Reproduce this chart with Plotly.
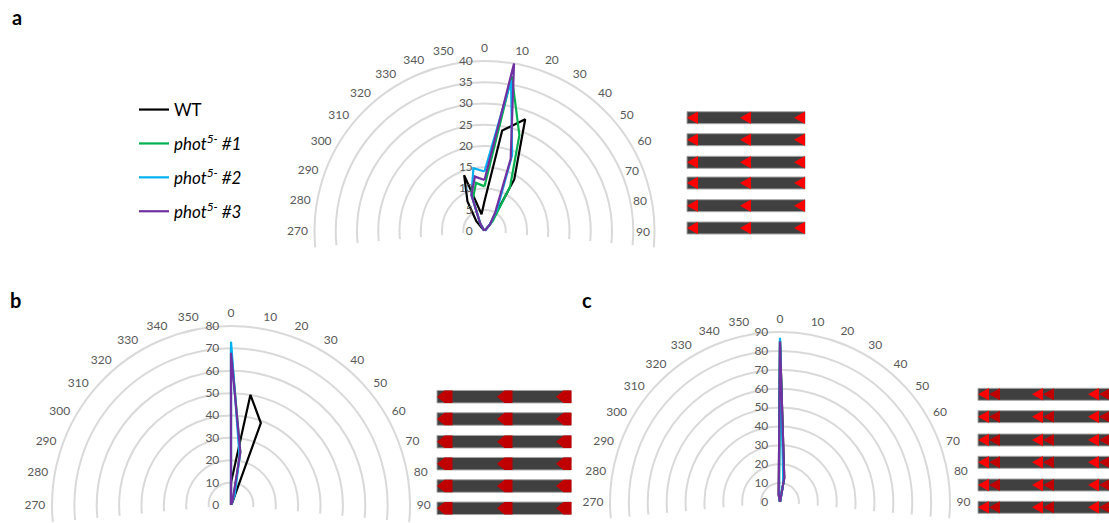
import math
import plotly.graph_objects as go

# ---------------- data ----------------
ANGLES = [0, 10, 20, 30, 40, 50, 60, 70, 80, 90, 100, 110,
          120, 130, 140, 150, 160, 170, 180, 190, 200, 210, 220, 230,
          240, 250, 260, 270, 280, 290, 300, 310, 320, 330, 340, 350]
ANGLE_LABELS = ["0", "10", "20", "30", "40", "50", "60", "70", "80", "90", "100", "110",
                "120", "130", "140", "150", "160", "170", "180", "190", "200", "210", "220", "230",
                "240", "250", "260", "270", "280", "290", "300", "310", "320", "330", "340", "350"]

SERIES_NAMES = ["WT", "<i>phot<sup>5-</sup> #1</i>", "<i>phot<sup>5-</sup> #2</i>", "<i>phot<sup>5-</sup> #3</i>"]
COLORS = ["#000000", "#00B050", "#00B0F0", "#7030A0"]

# panel a (0-40 scale)
A_WT = [7, 24, 28, 14, 2, 0,  0, 0, 0, 0, 0, 0,  0, 0, 0, 0, 0, 0,
        0, 0, 0, 0, 0, 0,  0, 0, 0, 0, 0, 0,  0, 0, 3, 8, 14, 4]
A_P1 = [10.5, 37, 24, 12, 3, 0,  0, 0, 0, 0, 0, 0,  0, 0, 0, 0, 0, 0,
        0, 0, 0, 0, 0, 0,  0, 0, 0, 0, 0, 0,  0, 0, 0, 2, 8, 11.5]
A_P2 = [14, 36, 19, 6, 2, 0,  0, 0, 0, 0, 0, 0,  0, 0, 0, 0, 0, 0,
        0, 0, 0, 0, 0, 0,  0, 0, 0, 0, 0, 0,  0, 0, 0, 2, 9, 15]
A_P3 = [12, 40, 18, 5, 2, 0,  0, 0, 0, 0, 0, 0,  0, 0, 0, 0, 0, 0,
        0, 0, 0, 0, 0, 0,  0, 0, 0, 0, 0, 0,  0, 0, 0, 2, 9, 13]

# panel b (0-80 scale)
B_WT = [10, 50, 39, 1, 0, 0,  0, 0, 0, 0, 0, 0,  0, 0, 0, 0, 0, 0,
        0, 0, 0, 0, 0, 0,  0, 0, 0, 0, 0, 0,  0, 0, 0, 0, 0, 0]
B_P1 = [70, 24, 3, 0, 0, 0,  0, 0, 0, 0, 0, 0,  0, 0, 0, 0, 0, 0,
        0, 0, 0, 0, 0, 0,  0, 0, 0, 0, 0, 0,  0, 0, 0, 0, 0, 0]
B_P2 = [73, 22, 5, 0, 0, 0,  0, 0, 0, 0, 0, 0,  0, 0, 0, 0, 0, 0,
        0, 0, 0, 0, 0, 0,  0, 0, 0, 0, 0, 0,  0, 0, 0, 0, 0, 0]
B_P3 = [68, 24, 2, 0, 0, 0,  0, 0, 0, 0, 0, 0,  0, 0, 0, 0, 0, 0,
        0, 0, 0, 0, 0, 0,  0, 0, 0, 0, 0, 0,  0, 0, 0, 0, 0, 0]

# panel c (0-90 scale)
C_WT = [85, 13, 0, 0, 0, 0,  0, 0, 0, 0, 0, 0,  0, 0, 0, 0, 0, 0,
        0, 0, 0, 0, 0, 0,  0, 0, 0, 0, 0, 0,  0, 0, 0, 0, 0, 4]
C_P1 = [86, 12, 0, 0, 0, 0,  0, 0, 0, 0, 0, 0,  0, 0, 0, 0, 0, 0,
        0, 0, 0, 0, 0, 0,  0, 0, 0, 0, 0, 0,  0, 0, 0, 0, 0, 3]
C_P2 = [87, 10, 0, 0, 0, 0,  0, 0, 0, 0, 0, 0,  0, 0, 0, 0, 0, 0,
        0, 0, 0, 0, 0, 0,  0, 0, 0, 0, 0, 0,  0, 0, 0, 0, 0, 3]
C_P3 = [85, 13, 0, 0, 0, 0,  0, 0, 0, 0, 0, 0,  0, 0, 0, 0, 0, 0,
        0, 0, 0, 0, 0, 0,  0, 0, 0, 0, 0, 0,  0, 0, 0, 0, 0, 4]

PANELS = [
    ("polar", [A_WT, A_P1, A_P2, A_P3], 40, 5),
    ("polar2", [B_WT, B_P1, B_P2, B_P3], 80, 10),
    ("polar3", [C_WT, C_P1, C_P2, C_P3], 90, 10),
]

# ---------------- figure ----------------
W, H = 1109, 523
FONT = "Lato, 'Open Sans', Arial, sans-serif"
SECTOR = [-5.5, 185.5]
GRID = "#D9D9D9"
LABEL_COLOR = "#595959"
HEADROOM = 1.01  # outer ring sits just inside the range so it is drawn as a grid circle

fig = go.Figure()

for pi, (pid, series, rmax, dtick) in enumerate(PANELS):
    for si, vals in enumerate(series):
        fig.add_trace(go.Scatterpolar(
            r=vals + [vals[0]],
            theta=ANGLES + [ANGLES[0]],
            mode="lines",
            line=dict(color=COLORS[si], width=2.2),
            name=SERIES_NAMES[si],
            legendgroup="g%d" % si,
            showlegend=(pi == 0),
            subplot=pid,
            hoverinfo="skip",
        ))

# visible upper half: express left-hand angles as negative so they fall in the sector
TICK_VALS = [a if a <= 180 else a - 360 for a in ANGLES]


def polar_cfg(cx, cy, R, rmax, dtick, hide_labels=()):
    Rt = R * HEADROOM
    s = math.sin(math.radians(-SECTOR[0]))
    x0, x1 = (cx - Rt) / W, (cx + Rt) / W
    ytop, ybot = cy - Rt, cy + Rt * s
    ticktext = ["" if t in hide_labels else t for t in ANGLE_LABELS]
    return dict(
        domain=dict(x=[x0, x1], y=[1 - ybot / H, 1 - ytop / H]),
        sector=SECTOR,
        bgcolor="rgba(0,0,0,0)",
        angularaxis=dict(
            rotation=90, direction="clockwise",
            tickmode="array", tickvals=TICK_VALS, ticktext=ticktext,
            showgrid=False, showline=False,
            ticks="outside", ticklen=2, tickcolor="rgba(0,0,0,0)",
            tickfont=dict(family=FONT, size=12, color=LABEL_COLOR),
        ),
        radialaxis=dict(
            range=[0, rmax * HEADROOM], dtick=dtick, tick0=0,
            showline=False,
            ticks="outside", ticklen=7, tickcolor="rgba(0,0,0,0)",
            gridcolor=GRID, gridwidth=1.5,
            angle=90, side="counterclockwise", tickangle=90,
            tickfont=dict(family=FONT, size=12, color=LABEL_COLOR),
        ),
    )


fig.update_layout(
    width=W, height=H,
    margin=dict(l=0, r=0, t=0, b=0),
    paper_bgcolor="white",
    polar=polar_cfg(484.5, 231, 170, 40, 5, hide_labels=("70", "80", "90")),
    polar2=polar_cfg(231, 505, 179, 80, 10),
    polar3=polar_cfg(780, 502, 170, 90, 10),
    showlegend=True,
    legend=dict(
        x=134 / W, y=1 - 92 / H, xanchor="left", yanchor="top",
        font=dict(family=FONT, size=17, color="#000000"),
        tracegroupgap=8.8, bgcolor="rgba(0,0,0,0)",
    ),
)

# panel a: Excel pulled the 70/80/90 labels inward (chart-area edge)
for txt, px, py in [("70", 632, 170), ("80", 640, 201), ("90", 643, 231)]:
    fig.add_annotation(text=txt, x=px / W, y=1 - py / H, xref="paper", yref="paper",
                       showarrow=False, xanchor="center", yanchor="middle",
                       font=dict(family=FONT, size=12, color=LABEL_COLOR))

# panel letters
for txt, px, py in [("a", 17, 17), ("b", 15, 300), ("c", 587, 300)]:
    fig.add_annotation(text="<b>%s</b>" % txt, x=px / W, y=1 - py / H,
                       xref="paper", yref="paper", showarrow=False,
                       xanchor="center", yanchor="middle",
                       font=dict(family=FONT, size=20, color="#000000"))

# ---------------- decorative light-direction arrows ----------------
def P(x, y):
    return "%.5f %.5f" % (x / W, 1 - y / H)


def add_bar(x0, x1, yc, h):
    fig.add_shape(type="rect", xref="paper", yref="paper",
                  x0=x0 / W, x1=x1 / W, y0=1 - (yc + h / 2) / H, y1=1 - (yc - h / 2) / H,
                  fillcolor="#404040", line=dict(color="#A6A6A6", width=1), layer="above")


def add_tri(xt, w, yc, h, color):
    path = "M %s L %s L %s Z" % (P(xt, yc), P(xt + w, yc - h / 2), P(xt + w, yc + h / 2))
    fig.add_shape(type="path", xref="paper", yref="paper", path=path,
                  fillcolor=color, line=dict(width=0), layer="above")


def add_pent(xt, w, tip, yc, h, color):
    path = "M %s L %s L %s L %s L %s Z" % (
        P(xt, yc), P(xt + tip, yc - h / 2), P(xt + w, yc - h / 2),
        P(xt + w, yc + h / 2), P(xt + tip, yc + h / 2))
    fig.add_shape(type="path", xref="paper", yref="paper", path=path,
                  fillcolor=color, line=dict(width=0), layer="above")


for yc in [117.7, 139.7, 162.3, 183, 205.7, 228]:
    add_bar(687, 805, yc, 12)
    for xt in [687, 740, 794]:
        add_tri(xt, 11, yc, 12.5, "#FF0000")

for yc in [396.7, 419, 441.7, 463.7, 486, 508.3]:
    add_bar(437, 571, yc, 12.5)
    for xt in [437, 497, 556]:
        add_pent(xt, 15.5, 7.5, yc, 12.5, "#C00000")

for yc in [394.3, 416.7, 440, 462.3, 485, 507.3]:
    add_bar(978, 1112, yc, 12)
    for xt in [978, 1032, 1088]:
        add_tri(xt + 11, 11, yc, 12, "#C00000")
        add_tri(xt, 11, yc, 12.5, "#FF0000")

fig.write_html("out.html")
